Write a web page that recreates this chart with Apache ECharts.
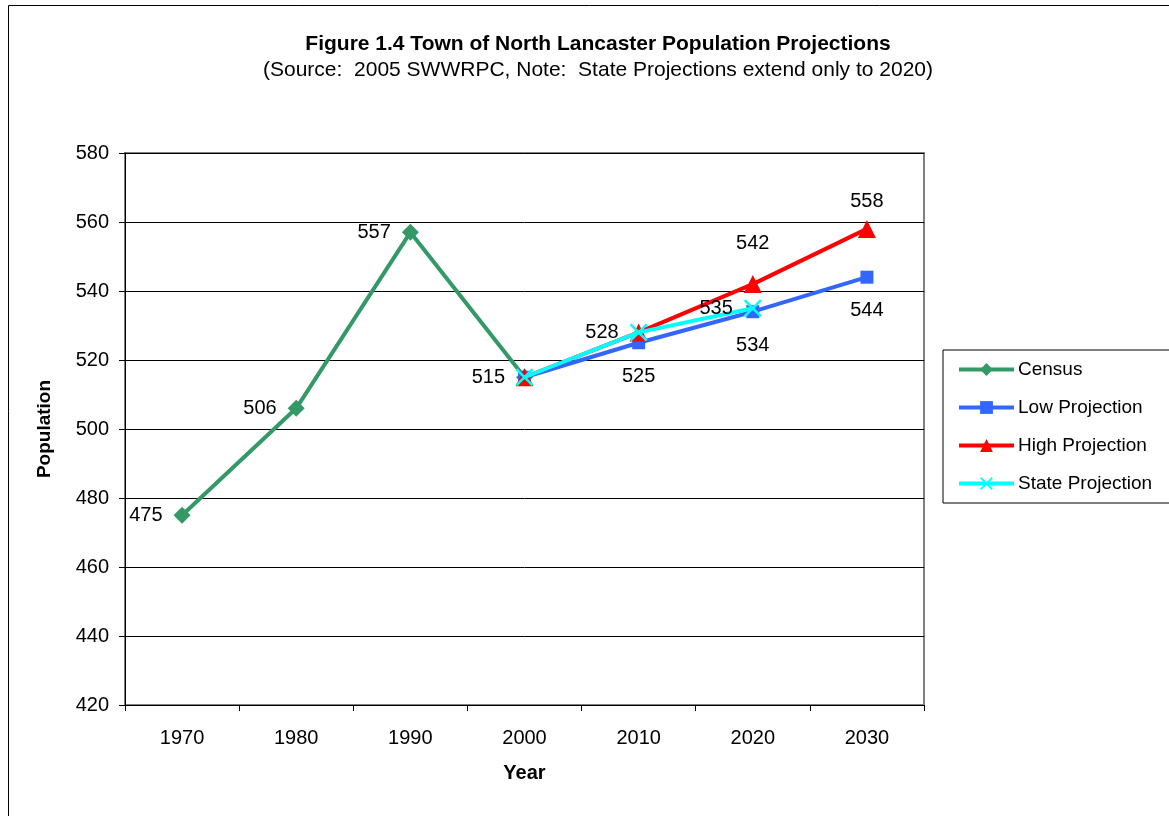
<!DOCTYPE html>
<html>
<head>
<meta charset="utf-8">
<script src="https://cdn.jsdelivr.net/npm/echarts@6/dist/echarts.min.js"></script>
<style>html,body{margin:0;padding:0;background:#fff}#c{width:1169px;height:816px}</style>
</head>
<body>
<div id="c"></div>
<script>
const years = ['1970','1980','1990','2000','2010','2020','2030'];
const census = [475, 506, 557, 515, null, null, null];
const lowProj = [null, null, null, 515, 525, 534, 544];
const highProj = [null, null, null, 515, 528, 542, 558];
const stateProj = [null, null, null, 515, 528, 535, null];
const yTicks = [420, 440, 460, 480, 500, 520, 540, 560, 580];

const FONT = '"Liberation Sans", Arial, sans-serif';
const xPath = 'path://M0,1 L1,0 L5,4 L9,0 L10,1 L6,5 L10,9 L9,10 L5,6 L1,10 L0,9 L4,5 Z';

function withLabels(arr, showIdx, extra) {
  return arr.map((v, i) => {
    if (v === null) return null;
    const item = { value: v };
    if (!showIdx.includes(i)) item.label = { show: false };
    if (extra && extra[i]) item.label = Object.assign({}, item.label || {}, extra[i]);
    return item;
  });
}

const labelBase = { show: true, color: '#000', fontSize: 20, fontFamily: FONT };

const chart = echarts.init(document.getElementById('c'));
chart.setOption({
  animation: false,
  backgroundColor: '#fff',
  textStyle: { fontFamily: FONT },
  title: [
    { text: 'Figure 1.4 Town of North Lancaster Population Projections', left: 593, top: 29, textAlign: 'center',
      textStyle: { fontSize: 21, fontWeight: 'bold', color: '#000', fontFamily: FONT } },
    { text: '(Source:  2005 SWWRPC, Note:  State Projections extend only to 2020)', left: 593, top: 55, textAlign: 'center',
      textStyle: { fontSize: 21, fontWeight: 'normal', color: '#000', fontFamily: FONT } }
  ],
  graphic: [
    { type: 'rect', shape: { x: 8.5, y: 5.5, width: 1300, height: 1000 }, style: { fill: 'none', stroke: '#000', lineWidth: 1 }, z: -10, silent: true }
  ],
  legend: {
    orient: 'vertical', left: 943, top: 350,
    padding: [10, 40, 10, 14],
    itemGap: 19, itemWidth: 55, itemHeight: 16,
    borderColor: '#000', borderWidth: 1, backgroundColor: '#fff',
    lineStyle: { width: 4 },
    textStyle: { fontSize: 19, color: '#000', fontFamily: FONT, padding: [0, 0, 0, -1] },
    data: ['Census', 'Low Projection', 'High Projection', 'State Projection']
  },
  grid: { left: 125, top: 153, width: 799, height: 552, show: true, borderColor: '#808080', borderWidth: 2, backgroundColor: 'transparent' },
  xAxis: {
    type: 'category', data: years, boundaryGap: true,
    name: 'Year', nameLocation: 'middle', nameGap: 58,
    nameTextStyle: { fontSize: 20, fontWeight: 'bold', color: '#000', fontFamily: FONT },
    axisLine: { lineStyle: { color: '#000', width: 1 } },
    axisTick: { show: true, length: 6, lineStyle: { color: '#000' } },
    axisLabel: { fontSize: 20, color: '#000', margin: 23, fontFamily: FONT },
    splitLine: { show: false }
  },
  yAxis: {
    type: 'value', min: yTicks[0], max: yTicks[yTicks.length - 1], interval: 20,
    name: 'Population', nameLocation: 'middle', nameGap: 71, nameRotate: 90,
    nameTextStyle: { fontSize: 19, fontWeight: 'bold', color: '#000', fontFamily: FONT },
    axisLine: { show: true, lineStyle: { color: '#000', width: 1 } },
    axisTick: { show: true, length: 6, lineStyle: { color: '#000' } },
    axisLabel: { fontSize: 20, color: '#000', margin: 16, fontFamily: FONT },
    splitLine: { show: true, lineStyle: { color: '#000', width: 1 } }
  },
  series: [
    {
      name: 'Census', type: 'line', data: withLabels(census, [0,1,2,3]),
      color: '#339966', lineStyle: { width: 4, color: '#339966' },
      symbol: 'diamond', symbolSize: 17, itemStyle: { color: '#339966' },
      label: Object.assign({ position: 'left', distance: 11 }, labelBase), z: 2
    },
    {
      name: 'Low Projection', type: 'line', data: withLabels(lowProj, [4,5,6]),
      color: '#3366FF', lineStyle: { width: 4, color: '#3366FF' },
      symbol: 'rect', symbolSize: 13, itemStyle: { color: '#3366FF' },
      label: Object.assign({ position: 'bottom', distance: 17 }, labelBase), z: 3
    },
    {
      name: 'High Projection', type: 'line', data: withLabels(highProj, [5,6], { 5: { distance: 22 } }),
      color: '#FF0000', lineStyle: { width: 4, color: '#FF0000' },
      symbol: 'triangle', symbolSize: 18, itemStyle: { color: '#FF0000' },
      label: Object.assign({ position: 'top', distance: 8 }, labelBase), z: 4
    },
    {
      name: 'State Projection', type: 'line', data: withLabels(stateProj, [4,5]),
      color: '#00FFFF', lineStyle: { width: 4, color: '#00FFFF' },
      symbol: xPath, symbolSize: 18, itemStyle: { color: '#00FFFF' },
      label: Object.assign({ position: 'left', distance: 11 }, labelBase), z: 5
    }
  ]
});
</script>
</body>
</html>
